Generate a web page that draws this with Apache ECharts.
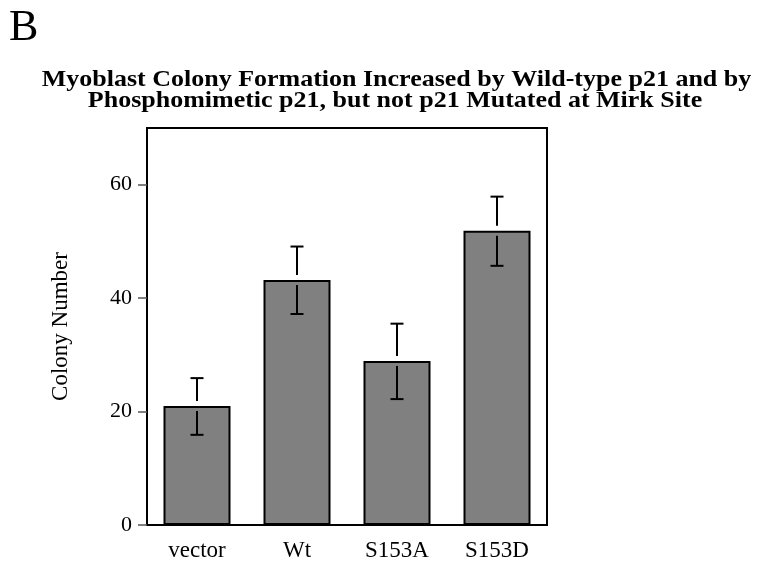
<!DOCTYPE html>
<html>
<head>
<meta charset="utf-8">
<script src="https://cdn.jsdelivr.net/npm/echarts@6/dist/echarts.min.js"></script>
<style>html,body{margin:0;padding:0;background:#fff}#c{width:758px;height:574px}</style>
</head>
<body>
<div id="c"></div>
<script>
const categories = ['vector', 'Wt', 'S153A', 'S153D'];
const colonyMeans = [21.0, 43.2, 28.9, 51.9];
const errUpper = [25.9, 49.1, 35.5, 57.9];
const errLower = [15.9, 37.2, 22.2, 45.7];
const yTicks = [0, 20, 40, 60];
const titleLines = ['Myoblast Colony Formation Increased by Wild-type p21 and by', 'Phosphomimetic p21, but not p21 Mutated at Mirk Site'];
const panelLabel = 'B';
const yAxisTitle = 'Colony Number';

const serif = '"Liberation Serif", "DejaVu Serif", serif';
const chart = echarts.init(document.getElementById('c'));

const errData = categories.map((c, i) => [i, colonyMeans[i], errLower[i], errUpper[i]]);

chart.setOption({
  animation: false,
  backgroundColor: '#fff',
  graphic: [
    { type: 'text', left: 9, top: 6, style: { text: panelLabel, font: '44px ' + serif, fill: '#000' } },
    { type: 'text', x: 396.5, y: 80, scaleX: 1.13, style: { text: titleLines[0], font: 'bold 23px ' + serif, fill: '#000', textAlign: 'center', textVerticalAlign: 'middle' } },
    { type: 'text', x: 395, y: 101, scaleX: 1.13, style: { text: titleLines[1], font: 'bold 23px ' + serif, fill: '#000', textAlign: 'center', textVerticalAlign: 'middle' } }
  ],
  grid: { left: 147, right: 211, top: 128, bottom: 49, show: true, borderColor: '#000', borderWidth: 2, backgroundColor: 'transparent' },
  xAxis: {
    type: 'category',
    data: categories,
    axisLine: { lineStyle: { color: '#000', width: 2 } },
    axisTick: { alignWithLabel: true, length: 11, lineStyle: { color: '#333', width: 1.5 } },
    axisLabel: { fontFamily: serif, fontSize: 23, color: '#000', margin: 14 }
  },
  yAxis: {
    type: 'value',
    min: 0, max: 70, interval: 20,
    name: yAxisTitle,
    nameLocation: 'middle',
    nameGap: 75,
    nameTextStyle: { fontFamily: serif, fontSize: 23, color: '#000' },
    splitLine: { show: false },
    axisLine: { show: true, lineStyle: { color: '#000', width: 2 } },
    axisTick: { show: true, length: 9, customValues: yTicks, lineStyle: { color: '#555', width: 1.5 } },
    axisLabel: { fontFamily: serif, fontSize: 22, color: '#000', margin: 15, customValues: yTicks }
  },
  series: [
    {
      type: 'bar',
      data: colonyMeans,
      barWidth: '67%',
      itemStyle: { color: '#808080', borderColor: '#000', borderWidth: 2 }
    },
    {
      type: 'custom',
      data: errData,
      z: 10,
      renderItem: function (params, api) {
        const x = api.coord([api.value(0), api.value(1)])[0];
        const top = api.coord([api.value(0), api.value(1)])[1];
        const lo = api.coord([api.value(0), api.value(2)])[1];
        const hi = api.coord([api.value(0), api.value(3)])[1];
        const gap = 5, cap = 6.5;
        const st = { stroke: '#000', lineWidth: 2 };
        return {
          type: 'group',
          children: [
            { type: 'line', shape: { x1: x, y1: top - gap, x2: x, y2: hi }, style: st },
            { type: 'line', shape: { x1: x - cap, y1: hi, x2: x + cap, y2: hi }, style: st },
            { type: 'line', shape: { x1: x, y1: top + gap, x2: x, y2: lo }, style: st },
            { type: 'line', shape: { x1: x - cap, y1: lo, x2: x + cap, y2: lo }, style: st }
          ]
        };
      }
    }
  ]
});
</script>
</body>
</html>
